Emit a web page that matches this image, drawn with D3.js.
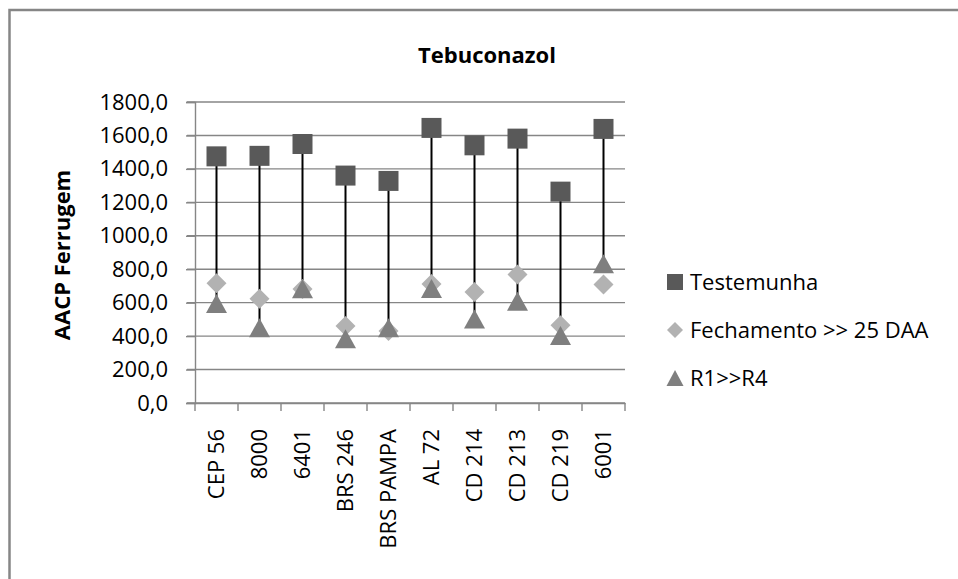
<!DOCTYPE html>
<html><head><meta charset="utf-8">
<script src="https://cdn.jsdelivr.net/npm/d3@7"></script>
<style>body{margin:0;background:#fff}svg{display:block}text{font-family:"Open Sans",sans-serif;fill:#000}</style>
</head><body><div id="c"></div>
<script>
const categories = ["CEP 56","8000","6401","BRS 246","BRS PAMPA","AL 72","CD 214","CD 213","CD 219","6001"];
const testemunha = [1475,1478,1549,1360,1328,1645,1541,1581,1264,1639];
const fechamento = [716,624,682,460,430,712,664,768,465,708];
const r1r4 = [592,447,680,381,447,682,500,606,400,829];
const yTicks = [0,200,400,600,800,1000,1200,1400,1600,1800];
const seriesNames = ["Testemunha","Fechamento >> 25 DAA","R1>>R4"];

const W=958,H=579;
const svg=d3.select("#c").append("svg").attr("width",W).attr("height",H);
svg.append("rect").attr("x",9.5).attr("y",10).attr("width",960).attr("height",600)
  .attr("fill","#fff").attr("stroke","#868686").attr("stroke-width",2.5);

const x=d3.scaleBand().domain(categories).range([195,625]);
const y=d3.scaleLinear().domain([0,1800]).range([403,102]);
const grey="#868686";

// gridlines
svg.append("g").selectAll("line").data(yTicks).join("line")
  .attr("x1",187).attr("x2",625).attr("y1",d=>y(d)).attr("y2",d=>y(d))
  .attr("stroke",grey).attr("stroke-width",1.4);

// y axis
const ya=svg.append("g").attr("transform","translate(195,0)")
  .call(d3.axisLeft(y).tickValues(yTicks).tickSize(9).tickPadding(18)
  .tickFormat(d=>d3.format(".1f")(d).replace(".",",")));
ya.selectAll("line,path").attr("stroke",grey).attr("stroke-width",1.4);
ya.selectAll("text").style("font-size","22px").style("font-family","Open Sans").attr("fill","#000");

// x axis
const xa=svg.append("g").attr("transform","translate(0,403)")
  .call(d3.axisBottom(x).tickSize(0).tickSizeOuter(0));
xa.select("path").attr("stroke",grey).attr("stroke-width",1.4);
xa.selectAll(".tick text").attr("transform","rotate(-90)").attr("text-anchor","end")
  .attr("x",-26).attr("y",0).attr("dy","0.35em").style("font-size","22px").style("font-family","Open Sans").attr("fill","#000");
const bounds=categories.map(c=>x(c)).concat([x.range()[1]]);
svg.append("g").selectAll("line").data(bounds).join("line")
  .attr("x1",d=>d).attr("x2",d=>d).attr("y1",403).attr("y2",411)
  .attr("stroke",grey).attr("stroke-width",1.4);

const cx=i=>x(categories[i])+x.bandwidth()/2;
// hi-lo lines
svg.append("g").selectAll("line").data(categories).join("line")
  .attr("x1",(d,i)=>cx(i)).attr("x2",(d,i)=>cx(i))
  .attr("y1",(d,i)=>y(testemunha[i])).attr("y2",(d,i)=>y(r1r4[i]))
  .attr("stroke","#000").attr("stroke-width",2);

const sq=d3.symbol().type(d3.symbolSquare).size(400);
const di=d=>"M0,-10L10,0L0,10L-10,0Z";
const tri="M0,-10L10.5,9L-10.5,9Z";
const cSq="#595959",cDi="#b2b2b2",cTr="#7f7f7f";

svg.append("g").selectAll("path").data(testemunha).join("path")
  .attr("d",sq()).attr("fill",cSq).attr("transform",(d,i)=>`translate(${cx(i)},${y(d)})`);
svg.append("g").selectAll("path").data(fechamento).join("path")
  .attr("d",di).attr("fill",cDi).attr("transform",(d,i)=>`translate(${cx(i)},${y(d)})`);
svg.append("g").selectAll("path").data(r1r4).join("path")
  .attr("d",tri).attr("fill",cTr).attr("transform",(d,i)=>`translate(${cx(i)},${y(d)})`);

// title
svg.append("text").attr("x",487).attr("y",63).attr("text-anchor","middle")
  .style("font-size","22px").style("font-weight","bold").text("Tebuconazol");
svg.append("text").attr("transform","translate(70,255) rotate(-90)").attr("text-anchor","middle")
  .style("font-size","22px").style("font-weight","bold").text("AACP Ferrugem");

// legend
const leg=svg.append("g");
const ly=[282,330,378];
const legSyms=[{d:"M-8,-8H8V8H-8Z",c:cSq},{d:"M0,-8L8,0L0,8L-8,0Z",c:cDi},{d:"M0,-8L8.5,8L-8.5,8Z",c:cTr}];
seriesNames.forEach((n,i)=>{
  leg.append("path").attr("d",legSyms[i].d).attr("fill",legSyms[i].c).attr("transform",`translate(675,${ly[i]})`);
  leg.append("text").attr("x",690).attr("y",ly[i]).attr("dy","0.35em").style("font-size","22px").text(n);
});
</script></body></html>
